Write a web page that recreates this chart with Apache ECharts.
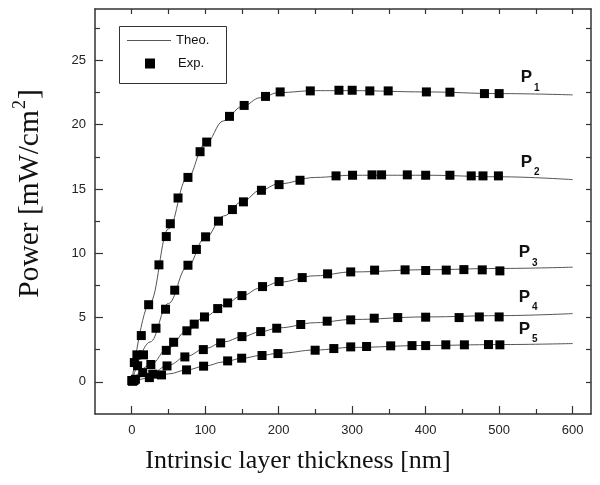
<!DOCTYPE html>
<html>
<head>
<meta charset="utf-8">
<script src="https://cdn.jsdelivr.net/npm/echarts@6/dist/echarts.min.js"></script>
<style>html,body{margin:0;padding:0;background:#fff}#c{width:600px;height:485px}</style>
</head>
<body>
<div id="c"></div>
<script>
// ---- data ----
var seriesNames = ['1', '2', '3', '4', '5'];
var xTickLabels = [0, 100, 200, 300, 400, 500, 600];
var yTickLabels = [0, 5, 10, 15, 20, 25];

var exp1 = [[0,0.1],[3.5,1.5],[7,2.1],[13,3.6],[23,6.0],[37,9.1],[47,11.3],[52.5,12.3],[63,14.3],[76.5,15.9],[93,17.9],[102,18.65],[133,20.65],[153,21.5],[182,22.2],[202,22.55],[243,22.63],[282,22.68],[300,22.68],[324,22.63],[349,22.63],[401,22.55],[433,22.53],[480,22.42],[500,22.42]];
var exp2 = [[1,0.05],[8,1.25],[16,2.1],[33,4.17],[46,5.65],[58.5,7.13],[76.5,9.07],[88,10.3],[100.5,11.28],[118,12.5],[137,13.4],[152,14.0],[176.5,14.9],[200.5,15.34],[229,15.68],[278,16.02],[300.5,16.07],[327,16.1],[340,16.1],[375,16.1],[400,16.07],[433,16.07],[462,16.02],[478,16.02],[499,16.02]];
var exp3 = [[3,0.1],[15,0.72],[26,1.35],[47,2.45],[57,3.08],[75,3.97],[85,4.49],[99,5.05],[117,5.7],[130.5,6.14],[150,6.71],[178,7.41],[200.5,7.8],[232,8.11],[266.5,8.4],[298,8.55],[330.5,8.69],[372,8.71],[400,8.66],[428,8.69],[452,8.73],[477,8.71],[501,8.63]];
var exp4 = [[5,0.2],[28.6,0.6],[48,1.24],[72.3,1.94],[97.4,2.51],[121,3.03],[150,3.52],[175.5,3.91],[197.3,4.17],[230,4.46],[266,4.72],[298,4.82],[330,4.95],[362,5.0],[400,5.03],[445.5,5.0],[473,5.05],[500,5.05]];
var exp5 = [[1.4,0.08],[24,0.33],[40.5,0.54],[74.6,0.93],[97.8,1.22],[130.5,1.63],[149.6,1.84],[177.3,2.05],[199,2.2],[249.6,2.46],[275,2.59],[298,2.72],[319.6,2.75],[352.4,2.8],[381.4,2.82],[400,2.82],[427.4,2.88],[452.7,2.88],[485.5,2.9],[501,2.88]];

var theo1 = [[0,0],[25,6.2],[50,11.9],[75,15.8],[100,18.5],[125,20.3],[150,21.4],[175,22.1],[200,22.5],[250,22.65],[300,22.65],[400,22.55],[500,22.42],[600,22.32]];
var theo2 = [[0,0],[25,3.1],[50,6.1],[75,8.9],[100,11.2],[125,12.9],[150,14.0],[175,14.9],[200,15.4],[250,15.9],[300,16.07],[400,16.07],[500,15.95],[600,15.73]];
var theo3 = [[0,0],[25,1.3],[50,2.65],[75,3.97],[100,5.1],[125,5.95],[150,6.7],[175,7.3],[200,7.75],[250,8.25],[300,8.55],[400,8.72],[500,8.82],[600,8.92]];
var theo4 = [[0,0],[25,0.6],[50,1.3],[75,2.0],[100,2.6],[125,3.1],[150,3.5],[175,3.9],[200,4.2],[250,4.6],[300,4.85],[400,5.05],[500,5.15],[600,5.31]];
var theo5 = [[0,0],[25,0.3],[50,0.62],[75,0.93],[100,1.24],[125,1.55],[150,1.83],[175,2.05],[200,2.22],[250,2.48],[300,2.68],[400,2.83],[500,2.9],[600,2.98]];

var expAll = [exp1, exp2, exp3, exp4, exp5];
var theoAll = [theo1, theo2, theo3, theo4, theo5];

// ---- styles ----
var labelOffsets = [[-60,-14],[-60,-14],[-62,-11],[-62,-13],[-62,-11]];
var axisColor = '#333';
var serif = '"Liberation Serif", "DejaVu Serif", serif';
var sans = '"Liberation Sans", Arial, sans-serif';

function range(a, b, s) { var r = []; for (var v = a; v <= b + 1e-9; v += s) r.push(+v.toFixed(4)); return r; }
var xMinor = xTickLabels.slice(0, -1).map(function (v) { return v + 50; });
var xAll = range(0, 600, 50);
var yMinor = yTickLabels.map(function (v) { return v + 2.5; });
var yAll = range(0, 27.5, 2.5);

var chart = echarts.init(document.getElementById('c'), null, { renderer: 'canvas' });

var series = [];
theoAll.forEach(function (d, i) {
  series.push({
    name: 'Theo.', type: 'line', data: d, smooth: 0.4, smoothMonotone: 'x',
    symbol: 'none', showSymbol: false, z: 2,
    lineStyle: { color: '#555', width: 1 },
    itemStyle: { color: '#555' },
    endLabel: {
      show: true, offset: labelOffsets[i],
      formatter: '{p|P}{s|' + seriesNames[i] + '}',
      rich: {
        p: { fontSize: 17, fontWeight: 'bold', fontFamily: sans, color: '#111', verticalAlign: 'top', lineHeight: 17 },
        s: { fontSize: 10, fontWeight: 'bold', fontFamily: sans, color: '#111', verticalAlign: 'top', padding: [14, 0, 0, 2] }
      }
    },
    silent: true
  });
});
expAll.forEach(function (d) {
  series.push({
    name: 'Exp.', type: 'scatter', data: d, symbol: 'rect', symbolSize: 9, z: 3,
    itemStyle: { color: '#000', opacity: 1 }, silent: true
  });
});

function axisLineStyle(show) {
  return { show: show, onZero: false, lineStyle: { color: axisColor, width: 1.5 } };
}

var option = {
  animation: false,
  backgroundColor: '#fff',
  grid: { left: 95, top: 9, right: 9, bottom: 71, containLabel: false },
  legend: [
    { data: [{ name: 'Theo.', icon: 'rect' }], left: 127, top: 34, padding: 0, itemWidth: 44, itemHeight: 1, selectedMode: false,
      itemStyle: { color: '#555' },
      textStyle: { fontFamily: sans, fontSize: 13, color: '#111' } },
    { data: [{ name: 'Exp.', icon: 'rect' }], left: 145, top: 57, padding: 0, itemWidth: 10, itemHeight: 10, selectedMode: false,
      itemStyle: { color: '#000', opacity: 1 },
      textStyle: { fontFamily: sans, fontSize: 13, color: '#111', padding: [0, 0, 0, 18] } }
  ],
  graphic: [{
    type: 'rect', left: 117, top: 24, shape: { width: 107, height: 57 },
    style: { fill: 'none', stroke: '#333', lineWidth: 1 }, z: 10, silent: true
  }],
  xAxis: [
    { type: 'value', position: 'bottom', min: -50, max: 625,
      name: 'Intrinsic layer thickness [nm]', nameLocation: 'middle', nameGap: 34,
      nameTextStyle: { fontFamily: serif, fontSize: 26, color: '#111', padding: [0, 90, 0, 0] },
      axisLine: axisLineStyle(true),
      axisTick: { show: true, inside: true, length: 8, customValues: xTickLabels, lineStyle: { color: axisColor, width: 1.2 } },
      axisLabel: { show: true, customValues: xTickLabels, margin: 10, fontFamily: sans, fontSize: 13, color: '#222' },
      splitLine: { show: false } },
    { type: 'value', position: 'bottom', min: -50, max: 625,
      axisLine: axisLineStyle(false),
      axisTick: { show: true, inside: true, length: 5, customValues: xMinor, lineStyle: { color: axisColor, width: 1.2 } },
      axisLabel: { show: false }, splitLine: { show: false } },
    { type: 'value', position: 'top', min: -50, max: 625,
      axisLine: axisLineStyle(true),
      axisTick: { show: true, inside: true, length: 5, customValues: xAll, lineStyle: { color: axisColor, width: 1.2 } },
      axisLabel: { show: false }, splitLine: { show: false } }
  ],
  yAxis: [
    { type: 'value', position: 'left', min: -2.5, max: 29,
      name: '{t|Power [mW/cm}{sup|2}{t|]}', nameLocation: 'middle', nameGap: 50, nameRotate: 90,
      nameTextStyle: { padding: [0, 0, 0, 36],
        rich: {
          t: { fontFamily: serif, fontSize: 29.5, color: '#111', verticalAlign: 'bottom', lineHeight: 34 },
          sup: { fontFamily: serif, fontSize: 18, color: '#111', verticalAlign: 'top', lineHeight: 34, padding: [0, 1, 12, 1] }
        } },
      axisLine: axisLineStyle(true),
      axisTick: { show: true, inside: true, length: 8, customValues: yTickLabels, lineStyle: { color: axisColor, width: 1.2 } },
      axisLabel: { show: true, customValues: yTickLabels, margin: 9, fontFamily: sans, fontSize: 13, color: '#222' },
      splitLine: { show: false } },
    { type: 'value', position: 'left', min: -2.5, max: 29,
      axisLine: axisLineStyle(false),
      axisTick: { show: true, inside: true, length: 5, customValues: yMinor, lineStyle: { color: axisColor, width: 1.2 } },
      axisLabel: { show: false }, splitLine: { show: false } },
    { type: 'value', position: 'right', min: -2.5, max: 29,
      axisLine: axisLineStyle(true),
      axisTick: { show: true, inside: true, length: 5, customValues: yAll, lineStyle: { color: axisColor, width: 1.2 } },
      axisLabel: { show: false }, splitLine: { show: false } }
  ],
  series: series
};
chart.setOption(option);
</script>
</body>
</html>
